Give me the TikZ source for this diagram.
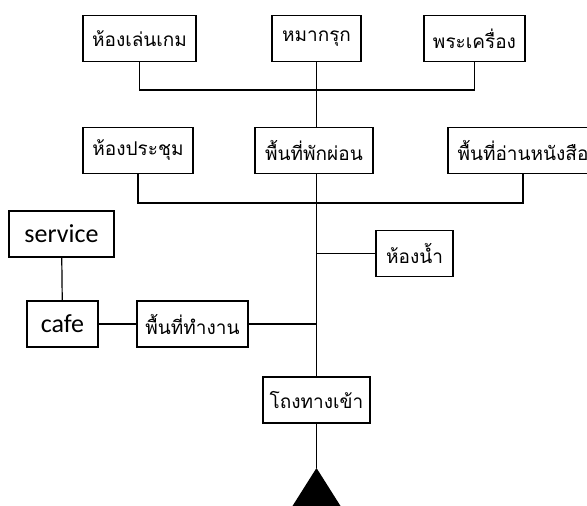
\documentclass[tikz,border=0pt]{standalone}
\usepackage{fontspec}
\setmainfont{Carlito}
\newfontfamily\thaifont[Script=Thai]{Loma}
\usetikzlibrary{shapes.geometric, arrows}
\tikzstyle{room} = [rectangle, minimum height=46pt, inner sep=4pt, text centered, draw=black, line width=1.2pt, font=\thaifont\fontsize{19}{21}\selectfont]
\tikzstyle{latinroom} = [room, font=\fontsize{26}{28}\selectfont]
\tikzstyle{link} = [line width=1.2pt]

\begin{document}
\begin{tikzpicture}[x=1pt, y=-1pt]

    \clip (0,0) rectangle (587,506);

    % Nodes
    \node (gameRoom) [room, minimum width=113pt] at (139.5,38.5) {ห้องเล่นเกม};
    \node (chess) [room, minimum width=89pt] at (316.5,38.5) {หมากรุก};
    \node (amulet) [room, minimum width=101pt] at (474.5,38.5) {พระเครื่อง};

    \node (meetingRoom) [room, minimum width=110pt] at (138,150.5) {ห้องประชุม};
    \node (restArea) [room, minimum width=118pt] at (314,150.5) {พื้นที่พักผ่อน};
    \node (readingArea) [room, minimum width=150pt] at (523,150.5) {พื้นที่อ่านหนังสือ};

    \node (service) [latinroom, minimum width=105pt] at (61.5,234) {service};
    \node (cafe) [latinroom, minimum width=71pt] at (62.5,324) {cafe};
    \node (workArea) [room, minimum width=111pt] at (192.5,324) {พื้นที่ทำงาน};
    \node (toilet) [room, minimum width=77pt] at (414.5,253.5) {ห้องน้ำ};

    \node (entrance) [room, minimum width=107pt] at (316.5,400) {โถงทางเข้า};

    \coordinate (topBus) at (316.5,90);
    \coordinate (midBus) at (316.5,203);
    \coordinate (doorTip) at (316.5,468);

    % Lines
    \draw [link] (gameRoom) |- (topBus);
    \draw [link] (amulet) |- (topBus);
    \draw [link] (chess) -- (chess |- restArea.north);

    \draw [link] (meetingRoom) |- (midBus);
    \draw [link] (readingArea) |- (midBus);
    \draw [link] (entrance |- restArea.south) -- (entrance);

    \draw [link] (toilet) -- (toilet -| entrance);
    \draw [link] (workArea) -- (workArea -| entrance);
    \draw [link] (cafe) -- (workArea);
    \draw [link] (service) -- (cafe);

    \draw [link] (entrance) -- (doorTip);
    \fill (doorTip) -- (292.5,506) -- (340.5,506) -- cycle;

\end{tikzpicture}
\end{document}
